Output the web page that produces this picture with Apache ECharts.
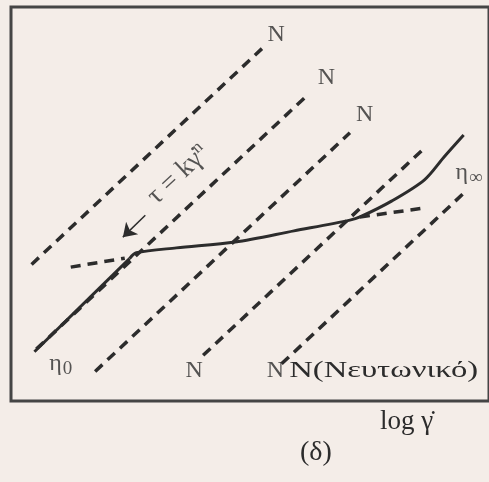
<!DOCTYPE html>
<html>
<head>
<meta charset="utf-8">
<script src="https://cdn.jsdelivr.net/npm/echarts@6/dist/echarts.min.js"></script>
<style>
  html, body { margin: 0; padding: 0; background: #f4ede8; }
  #chart { width: 489px; height: 482px; }
</style>
</head>
<body>
<div id="chart"></div>
<script>
// Flow curve in log-log coordinates: log τ against log γ̇ (arbitrary units).
// Zero-shear (Newtonian) branch η0
const lowRate   = [0.49, 2.48];
const lowStress = [1.10, 3.18];
// Shear-thinning branch rising into the η∞ region
const highRate   = [2.48, 2.62, 3.46, 4.69, 5.92, 7.09, 7.30, 7.97, 8.65, 9.06, 9.47];
const highStress = [3.18, 3.31, 3.42, 3.55, 3.80, 4.04, 4.11, 4.47, 4.94, 5.45, 5.94];

// Newtonian reference lines: log τ = log γ̇ + offset, drawn between two log γ̇ values.
const newtonOffsets = [2.62, 0.63, -1.10, -3.00, -4.83];
const newtonFrom    = [0.43, 0.53, 1.76, 4.02, 5.66];
const newtonTo      = [5.25, 6.19, 7.09, 8.65, 9.55];

// Dashed extensions of the shear-thinning part.
const extLeftRate    = [1.25, 2.38];
const extLeftStress  = [2.99, 3.19];
const extRightRate   = [7.30, 8.65];
const extRightStress = [4.11, 4.31];

const INK = '#2c2c2c';
const SERIF = 'Liberation Serif';

const chart = echarts.init(document.getElementById('chart'), null, { renderer: 'canvas' });

const dashed = { color: INK, width: 3.5, type: [10, 7], cap: 'butt' };

const series = [];

// zero-shear branch (straight)
series.push({
  type: 'line',
  data: lowRate.map((x, i) => [x, lowStress[i]]),
  symbol: 'none',
  lineStyle: { color: INK, width: 3 },
  z: 3
});
// shear-thinning branch
series.push({
  type: 'line',
  data: highRate.map((x, i) => [x, highStress[i]]),
  symbol: 'none',
  smooth: 0.3,
  lineStyle: { color: INK, width: 3 },
  z: 3
});

// Newtonian lines
newtonOffsets.forEach((b, i) => {
  series.push({
    type: 'line',
    data: [[newtonFrom[i], newtonFrom[i] + b], [newtonTo[i], newtonTo[i] + b]],
    symbol: 'none',
    lineStyle: dashed,
    z: 4
  });
});

// extensions
series.push({
  type: 'line', symbol: 'none', lineStyle: dashed, z: 4,
  data: extLeftRate.map((x, i) => [x, extLeftStress[i]])
});
series.push({
  type: 'line', symbol: 'none', lineStyle: dashed, z: 4,
  data: extRightRate.map((x, i) => [x, extRightStress[i]])
});

// arrow towards the power-law region
series.push({
  type: 'lines',
  coordinateSystem: 'cartesian2d',
  symbol: ['none', 'arrow'],
  symbolSize: 13,
  lineStyle: { color: INK, width: 1.5, opacity: 1 },
  data: [{ coords: [[2.81, 4.15], [2.34, 3.66]] }],
  z: 5
});

// text annotations
const txt = (x, y, text, extra) => ({
  value: [x, y],
  label: Object.assign({
    show: true, formatter: text, position: 'inside',
    color: INK, fontFamily: SERIF, fontSize: 24
  }, extra || {})
});

const subRich = {
  e: { fontFamily: SERIF, fontSize: 24, color: INK },
  s: { fontFamily: SERIF, fontSize: 19, color: INK, padding: [10, 0, 0, 1] }
};

series.push({
  type: 'scatter',
  symbolSize: 0,
  silent: true,
  z: 6,
  data: [
    txt(5.55, 8.18, 'N'),
    txt(6.60, 7.21, 'N'),
    txt(7.40, 6.39, 'N'),
    txt(3.83, 0.67, 'N'),
    txt(5.53, 0.67, 'N'),
    txt(0.80, 0.83, '{e|η}{s|0}', { align: 'left', rich: subRich }),
    txt(9.30, 5.09, '{e|η}{s|∞}', { align: 'left', rich: subRich }),
    txt(3.50, 5.05, '{t|τ = kγ̇}{s|n}', {
      rotate: 43,
      rich: {
        t: { fontFamily: SERIF, fontSize: 27, color: INK },
        s: { fontFamily: SERIF, fontSize: 17, color: INK, padding: [0, 0, 14, 0] }
      }
    })
  ]
});

chart.setOption({
  backgroundColor: '#f4ede8',
  animation: false,
  grid: {
    left: 11, top: 7, right: -10, bottom: 81,
    show: true, borderColor: '#454545', borderWidth: 3,
    backgroundColor: 'transparent'
  },
  xAxis: {
    type: 'value', min: 0, max: 10,
    axisLine: { show: false }, axisTick: { show: false },
    axisLabel: { show: false }, splitLine: { show: false }
  },
  yAxis: {
    type: 'value', min: 0, max: 8.8,
    axisLine: { show: false }, axisTick: { show: false },
    axisLabel: { show: false }, splitLine: { show: false }
  },
  series: series
});

// Axis title, panel tag and the wide-set Greek caption of the Newtonian line.
const newtonCaption = chart.convertToPixel({ gridIndex: 0 }, [5.82, 0.67]);
chart.setOption({
  graphic: [
    {
      type: 'text', x: newtonCaption[0], y: newtonCaption[1], scaleX: 1.36,
      style: {
        text: 'N(Νευτωνικό)', fontFamily: SERIF, fontSize: 24, fill: INK,
        align: 'left', verticalAlign: 'middle'
      },
      z: 10
    },
    {
      type: 'text', left: 380, top: 408,
      style: { text: 'log γ̇', fontFamily: SERIF, fontSize: 27, fill: INK }
    },
    {
      type: 'text', left: 300, top: 439,
      style: { text: '(δ)', fontFamily: SERIF, fontSize: 28, fill: INK }
    }
  ]
});
</script>
</body>
</html>
